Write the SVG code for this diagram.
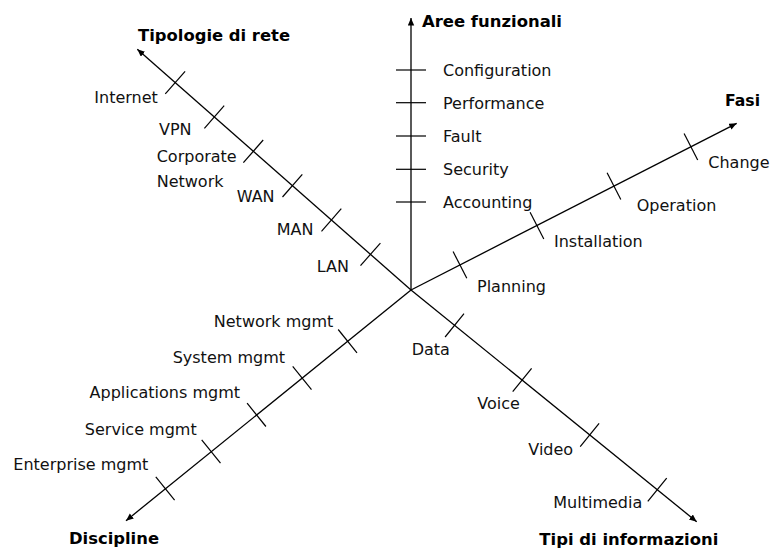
<svg xmlns="http://www.w3.org/2000/svg" width="773" height="551" viewBox="0 0 773 551">
<style>
.ax{stroke:#000;stroke-width:1.3;fill:none}
.tk{stroke:#000;stroke-width:1.2}
text{font-family:"DejaVu Sans","Verdana",sans-serif;font-size:16px;fill:#111}
.t{font-weight:bold;fill:#000}
.e{text-anchor:end}
</style>
<defs>
<marker id="arr" markerUnits="userSpaceOnUse" markerWidth="9" markerHeight="8" refX="7.5" refY="3.2" orient="auto">
<path d="M0,0 L7.5,3.2 L0,6.4 z" fill="#000"/>
</marker>
</defs>
<rect width="773" height="551" fill="#fff"/>
<g id="connectors">
<line class="ax" x1="411" y1="290" x2="411" y2="18" marker-end="url(#arr)"/>
<line class="ax" x1="411" y1="290" x2="736.7" y2="123.3" marker-end="url(#arr)"/>
<line class="ax" x1="411" y1="290" x2="137.3" y2="49.3" marker-end="url(#arr)"/>
<line class="ax" x1="411" y1="290" x2="126" y2="520.7" marker-end="url(#arr)"/>
<line class="ax" x1="411" y1="290" x2="696.7" y2="521.7" marker-end="url(#arr)"/>
</g>
<g id="ticks">
<line class="tk" x1="396" y1="70" x2="426" y2="70"/>
<line class="tk" x1="396" y1="102.7" x2="426" y2="102.7"/>
<line class="tk" x1="396" y1="136" x2="426" y2="136"/>
<line class="tk" x1="396" y1="169.3" x2="426" y2="169.3"/>
<line class="tk" x1="396" y1="202" x2="426" y2="202"/>
<line class="tk" x1="453.1" y1="251.6" x2="466.8" y2="278.3"/>
<line class="tk" x1="530.1" y1="212.2" x2="543.8" y2="238.9"/>
<line class="tk" x1="607.1" y1="172.8" x2="620.8" y2="199.5"/>
<line class="tk" x1="684.1" y1="133.4" x2="697.7" y2="160.1"/>
<line class="tk" x1="360.5" y1="265.6" x2="380.4" y2="243.1"/>
<line class="tk" x1="321.5" y1="231.3" x2="341.3" y2="208.7"/>
<line class="tk" x1="282.5" y1="197" x2="302.3" y2="174.4"/>
<line class="tk" x1="243.4" y1="162.6" x2="263.2" y2="140"/>
<line class="tk" x1="204.4" y1="128.3" x2="224.2" y2="105.7"/>
<line class="tk" x1="165.3" y1="93.9" x2="185.1" y2="71.3"/>
<line class="tk" x1="338.2" y1="329.5" x2="357" y2="352.9"/>
<line class="tk" x1="292.7" y1="366.3" x2="311.5" y2="389.7"/>
<line class="tk" x1="247.1" y1="403.1" x2="265.9" y2="426.5"/>
<line class="tk" x1="201.7" y1="439.8" x2="220.5" y2="463.2"/>
<line class="tk" x1="155.8" y1="476.8" x2="174.6" y2="500.2"/>
<line class="tk" x1="445.1" y1="337" x2="464" y2="313.7"/>
<line class="tk" x1="512.7" y1="391.7" x2="531.6" y2="368.4"/>
<line class="tk" x1="580.2" y1="446.6" x2="599.1" y2="423.3"/>
<line class="tk" x1="647.8" y1="501.4" x2="666.7" y2="478.1"/>
</g>
<g id="aree">
<text class="t" x="422" y="27" textLength="140" lengthAdjust="spacingAndGlyphs">Aree funzionali</text>
<text x="443" y="76">Configuration</text>
<text x="443" y="108.5">Performance</text>
<text x="443" y="141.7">Fault</text>
<text x="443" y="175">Security</text>
<text x="443" y="207.5">Accounting</text>
</g>
<g id="fasi">
<text class="t" x="725" y="106" textLength="35" lengthAdjust="spacingAndGlyphs">Fasi</text>
<text x="477" y="291.5">Planning</text>
<text x="554" y="246.7">Installation</text>
<text x="636.7" y="210.7">Operation</text>
<text x="708.3" y="168.3">Change</text>
</g>
<g id="tipologie">
<text class="t" x="138" y="40.7" textLength="152" lengthAdjust="spacingAndGlyphs">Tipologie di rete</text>
<text x="94.3" y="103.3">Internet</text>
<text x="159" y="135">VPN</text>
<text x="156.7" y="161.7">Corporate</text>
<text x="156.7" y="186.7">Network</text>
<text x="236.7" y="201.7">WAN</text>
<text x="276.7" y="235">MAN</text>
<text x="316.7" y="271.7">LAN</text>
</g>
<g id="discipline">
<text class="t" x="69" y="544" textLength="90" lengthAdjust="spacingAndGlyphs">Discipline</text>
<text class="e" x="333.3" y="326.7">Network mgmt</text>
<text class="e" x="285" y="362.7">System mgmt</text>
<text class="e" x="240" y="398.3">Applications mgmt</text>
<text class="e" x="196.7" y="435">Service mgmt</text>
<text class="e" x="148.3" y="470">Enterprise mgmt</text>
</g>
<g id="tipi">
<text class="t" x="539.3" y="544.5" textLength="179" lengthAdjust="spacingAndGlyphs">Tipi di informazioni</text>
<text x="411.7" y="355">Data</text>
<text x="477.3" y="409.3">Voice</text>
<text x="528.3" y="455">Video</text>
<text x="553.3" y="508.3">Multimedia</text>
</g>
</svg>
